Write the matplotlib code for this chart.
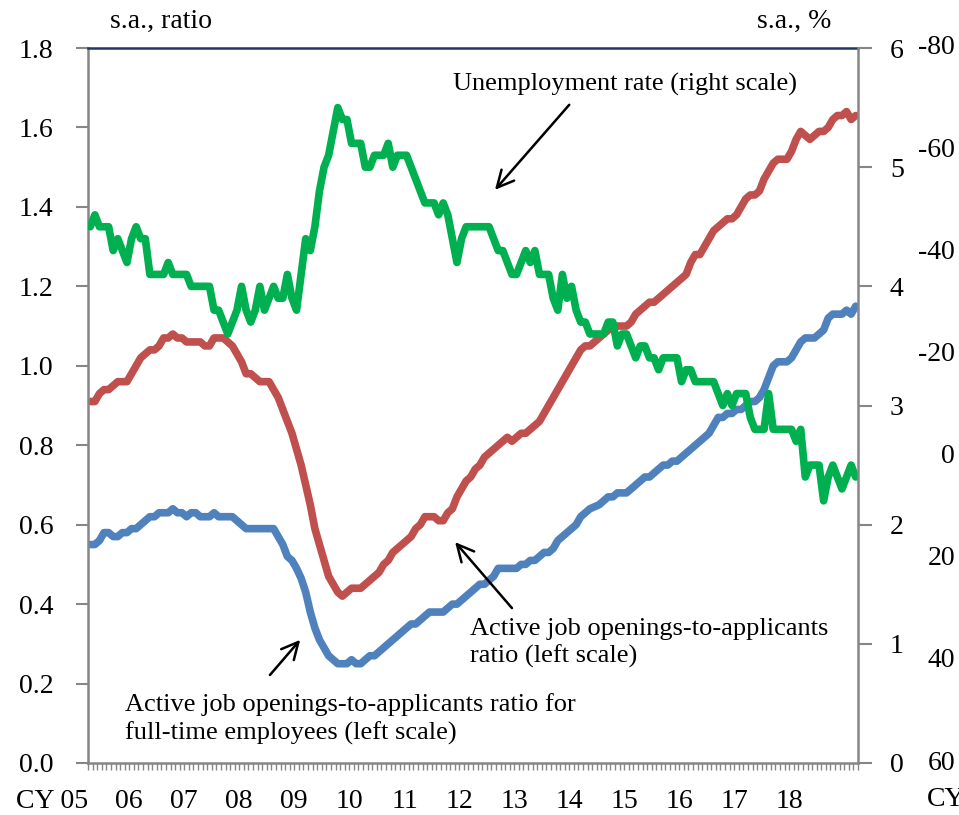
import numpy as np
import matplotlib.pyplot as plt
from matplotlib.ticker import FixedLocator
import matplotlib.transforms as mtransforms

plt.rcParams['font.family'] = ['Liberation Serif', 'DejaVu Serif']

# monthly data, CY2005/01 - CY2018/12
ratio = [0.91, 0.91, 0.93, 0.94, 0.94, 0.95, 0.96, 0.96, 0.96, 0.98, 1.00, 1.02,
         1.03, 1.04, 1.04, 1.05, 1.07, 1.07, 1.08, 1.07, 1.07, 1.06, 1.06, 1.06,
         1.06, 1.05, 1.05, 1.07, 1.07, 1.07, 1.06, 1.05, 1.03, 1.01, 0.98, 0.98,
         0.97, 0.96, 0.96, 0.96, 0.94, 0.92, 0.89, 0.86, 0.83, 0.79, 0.75, 0.70,
         0.65, 0.59, 0.55, 0.51, 0.47, 0.45, 0.43, 0.42, 0.43, 0.44, 0.44, 0.44,
         0.45, 0.46, 0.47, 0.48, 0.50, 0.51, 0.53, 0.54, 0.55, 0.56, 0.57, 0.59,
         0.60, 0.62, 0.62, 0.62, 0.61, 0.61, 0.63, 0.64, 0.67, 0.69, 0.71, 0.72,
         0.74, 0.75, 0.77, 0.78, 0.79, 0.80, 0.81, 0.82, 0.81, 0.82, 0.83, 0.83,
         0.84, 0.85, 0.86, 0.88, 0.90, 0.92, 0.94, 0.96, 0.98, 1.00, 1.02, 1.04,
         1.05, 1.05, 1.06, 1.07, 1.08, 1.09, 1.10, 1.10, 1.10, 1.10, 1.11, 1.13,
         1.14, 1.15, 1.16, 1.16, 1.17, 1.18, 1.19, 1.20, 1.21, 1.22, 1.23, 1.26,
         1.28, 1.28, 1.30, 1.32, 1.34, 1.35, 1.36, 1.37, 1.37, 1.38, 1.40, 1.42,
         1.43, 1.43, 1.44, 1.47, 1.49, 1.51, 1.52, 1.52, 1.52, 1.54, 1.57, 1.59,
         1.58, 1.57, 1.58, 1.59, 1.59, 1.60, 1.62, 1.63, 1.63, 1.64, 1.62, 1.63]

ratio_ft = [0.55, 0.55, 0.56, 0.58, 0.58, 0.57, 0.57, 0.58, 0.58, 0.59, 0.59, 0.60,
            0.61, 0.62, 0.62, 0.63, 0.63, 0.63, 0.64, 0.63, 0.63, 0.62, 0.63, 0.63,
            0.62, 0.62, 0.62, 0.63, 0.62, 0.62, 0.62, 0.62, 0.61, 0.60, 0.59, 0.59,
            0.59, 0.59, 0.59, 0.59, 0.59, 0.57, 0.55, 0.52, 0.51, 0.49, 0.465, 0.43,
            0.38, 0.34, 0.31, 0.29, 0.27, 0.26, 0.25, 0.25, 0.25, 0.26, 0.25, 0.25,
            0.26, 0.27, 0.27, 0.28, 0.29, 0.30, 0.31, 0.32, 0.33, 0.34, 0.35, 0.35,
            0.36, 0.37, 0.38, 0.38, 0.38, 0.38, 0.39, 0.40, 0.40, 0.41, 0.42, 0.43,
            0.44, 0.45, 0.45, 0.46, 0.47, 0.49, 0.49, 0.49, 0.49, 0.49, 0.50, 0.50,
            0.51, 0.51, 0.52, 0.53, 0.53, 0.54, 0.56, 0.57, 0.58, 0.59, 0.60, 0.62,
            0.63, 0.64, 0.645, 0.65, 0.66, 0.67, 0.67, 0.68, 0.68, 0.68, 0.69, 0.70,
            0.71, 0.72, 0.72, 0.73, 0.74, 0.75, 0.75, 0.76, 0.76, 0.77, 0.78, 0.79,
            0.80, 0.81, 0.82, 0.83, 0.85, 0.87, 0.87, 0.88, 0.88, 0.89, 0.89, 0.90,
            0.91, 0.91, 0.92, 0.94, 0.97, 1.00, 1.01, 1.01, 1.01, 1.02, 1.04, 1.06,
            1.07, 1.07, 1.07, 1.08, 1.09, 1.12, 1.13, 1.13, 1.13, 1.14, 1.13, 1.15]

unemp = [4.5, 4.6, 4.5, 4.5, 4.5, 4.3, 4.4, 4.3, 4.2, 4.4, 4.5, 4.4,
         4.4, 4.1, 4.1, 4.1, 4.1, 4.2, 4.1, 4.1, 4.1, 4.1, 4.0, 4.0,
         4.0, 4.0, 4.0, 3.8, 3.8, 3.7, 3.6, 3.7, 3.8, 4.0, 3.8, 3.7,
         3.8, 4.0, 3.8, 3.9, 4.0, 3.9, 3.9, 4.1, 3.9, 3.8, 4.1, 4.4,
         4.3, 4.5, 4.8, 5.0, 5.1, 5.3, 5.5, 5.4, 5.4, 5.2, 5.2, 5.2,
         5.0, 5.0, 5.1, 5.1, 5.1, 5.2, 5.0, 5.1, 5.1, 5.1, 5.0, 4.9,
         4.8, 4.7, 4.7, 4.7, 4.6, 4.7, 4.6, 4.4, 4.2, 4.4, 4.5, 4.5,
         4.5, 4.5, 4.5, 4.5, 4.4, 4.3, 4.3, 4.2, 4.1, 4.1, 4.2, 4.3,
         4.2, 4.3, 4.1, 4.1, 4.1, 3.9, 3.8, 4.1, 3.9, 4.0, 3.8, 3.7,
         3.7, 3.6, 3.6, 3.6, 3.6, 3.7, 3.7, 3.5, 3.6, 3.6, 3.5, 3.4,
         3.5, 3.5, 3.4, 3.4, 3.3, 3.4, 3.4, 3.4, 3.4, 3.2, 3.3, 3.3,
         3.2, 3.2, 3.2, 3.2, 3.2, 3.1, 3.0, 3.1, 3.0, 3.1, 3.1, 3.1,
         2.9, 2.8, 2.8, 2.8, 3.1, 2.8, 2.8, 2.8, 2.8, 2.8, 2.7, 2.8,
         2.4, 2.5, 2.5, 2.5, 2.2, 2.4, 2.5, 2.4, 2.3, 2.4, 2.5, 2.4]

year_labels = ['CY 05', '06', '07', '08', '09', '10', '11', '12',
               '13', '14', '15', '16', '17', '18']
left_ticks = [0.0, 0.2, 0.4, 0.6, 0.8, 1.0, 1.2, 1.4, 1.6, 1.8]
right_ticks = [0, 1, 2, 3, 4, 5, 6]
next_ticks = [-80, -60, -40, -20, 0, 20, 40, 60]

grey = '#868686'
months = np.arange(len(ratio))

fig = plt.figure(figsize=(9.59, 8.15), dpi=100)
ax = fig.add_axes([88/959, 52/815, 770/959, 715/815])
ax2 = ax.twinx()

ax.plot(months, ratio, color='#C0504D', lw=5.5, solid_capstyle='round')
ax.plot(months, ratio_ft, color='#4F81BD', lw=5.5, solid_capstyle='round')
ax2.plot(months, unemp, color='#00B050', lw=5.5, solid_capstyle='round')

ax.set_xlim(-0.5, len(ratio) - 0.5)
ax.set_ylim(0, 1.8)
ax2.set_ylim(0, 6)

# x axis: monthly ticks, year labels right-aligned at January
ax.xaxis.set_minor_locator(FixedLocator(np.arange(-0.5, len(ratio), 1)))
ax.set_xticks(np.arange(len(year_labels)) * 12 - 0.5)
ax.set_xticklabels(year_labels)
for t in ax.get_xticklabels():
    t.set_ha('right')
ax.tick_params(axis='x', which='both', length=5, width=1, color=grey,
               labelsize=20, pad=14)

ax.set_yticks(left_ticks)
ax.set_yticklabels([f'{v:.1f}' for v in left_ticks])
ax.tick_params(axis='y', length=9, width=1.5, color=grey, labelsize=20, pad=16)
ax2.set_yticks(right_ticks)
ax2.tick_params(axis='y', length=10, width=1.5, color=grey, labelsize=20, pad=13)

for s in ['left', 'bottom']:
    ax.spines[s].set_color(grey)
    ax.spines[s].set_linewidth(1.8)
ax.spines['right'].set_visible(False)
ax.spines['top'].set_color('#1F3864')
ax.spines['top'].set_linewidth(1.8)
for s in ['left', 'bottom', 'top']:
    ax2.spines[s].set_visible(False)
ax2.spines['right'].set_color(grey)
ax2.spines['right'].set_linewidth(1.8)

# axis of the neighbouring panel, cut off at the right edge
ax3 = ax.twinx()
ax3.set_ylim(60, -80)
ax3.set_yticks([])
for s in ax3.spines.values():
    s.set_visible(False)
trans = mtransforms.blended_transform_factory(fig.transFigure, ax3.transData)
for v in next_ticks:
    ax3.text(955/959, v, str(v), transform=trans, ha='right', va='center',
             fontsize=20)
fig.text(927/959, 1 - 800/815, 'CY', ha='left', va='center', fontsize=20)

fig.text(110/959, 1 - 28/815, 's.a., ratio', ha='left', va='baseline', fontsize=20)
fig.text(757/959, 1 - 28/815, 's.a., %', ha='left', va='baseline', fontsize=20)

arrow = dict(arrowstyle='->, head_length=0.6, head_width=0.3', lw=1.8,
             color='black', shrinkA=0, shrinkB=0, mutation_scale=20)
ax.text(79.1, 1.694, 'Unemployment rate (right scale)', fontsize=19,
        ha='left', va='baseline')
ax.annotate('', xy=(88.3, 1.443), xytext=(104.5, 1.657), arrowprops=arrow)

ax.text(82.85, 0.252, 'Active job openings-to-applicants\nratio (left scale)',
        fontsize=19, ha='left', va='baseline', linespacing=1.3)
ax.annotate('', xy=(79.6, 0.556), xytext=(92.0, 0.390), arrowprops=arrow)

ax.text(7.57, 0.058, 'Active job openings-to-applicants ratio for\n'
        'full-time employees (left scale)',
        fontsize=19, ha='left', va='baseline', linespacing=1.35)
ax.annotate('', xy=(45.8, 0.310), xytext=(39.2, 0.2216), arrowprops=arrow)

fig.savefig('out.png', dpi=100)
